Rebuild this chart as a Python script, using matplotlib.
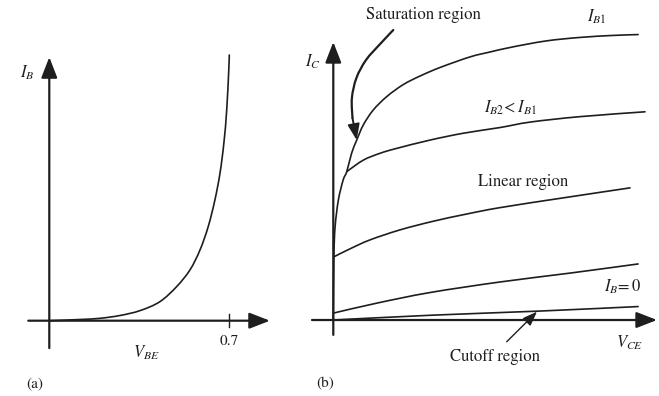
import matplotlib
matplotlib.use("Agg")
import matplotlib.pyplot as plt
from matplotlib.path import Path
from matplotlib.patches import PathPatch

plt.rcParams['mathtext.fontset'] = 'stix'
plt.rcParams['font.family'] = ['STIXGeneral', 'DejaVu Serif']

INK = '#1e1e1e'

# ---------------- Panel (a): input characteristic ----------------
vbe = [0.0, 0.119, 0.197, 0.275, 0.353, 0.430, 0.495, 0.547, 0.586, 0.618,
       0.644, 0.664, 0.679, 0.690, 0.698, 0.700]
ib = [0.0, 0.0045, 0.009, 0.0196, 0.038, 0.0715, 0.128, 0.191, 0.266, 0.354,
      0.454, 0.556, 0.669, 0.793, 0.944, 1.0]
vbe_tick = 0.7
vbe_tick_label = '0.7'

# ---------------- Panel (b): output characteristics ----------------
ib1_v = [0, 0.02, 0.06, 0.17, 0.33, 0.45, 0.61, 0.78, 1.0, 1.33, 1.78, 2.33,
         2.89, 3.56, 4.56, 5.22, 5.99, 7.11, 8.22, 9.32, 10.16]
ib1_i = [0, 2.21, 3.26, 4.20, 4.90, 5.19, 5.83, 6.29, 6.82, 7.34, 7.81, 8.23,
         8.53, 8.83, 9.20, 9.37, 9.55, 9.76, 9.88, 9.95, 9.98]
ib2_v = [0.45, 1.0, 1.56, 2.11, 3.22, 4.33, 5.56, 6.56, 8.22, 10.39]
ib2_i = [5.19, 5.59, 5.83, 6.00, 6.29, 6.53, 6.73, 6.92, 7.11, 7.28]
ib3_v = [0.02, 0.56, 1.22, 2.22, 3.32, 4.42, 5.56, 7.66, 9.89]
ib3_i = [2.21, 2.49, 2.80, 3.15, 3.45, 3.70, 3.93, 4.27, 4.62]
ib4_v = [0, 1.45, 3.22, 5.56, 7.89, 10.16]
ib4_i = [0.24, 0.59, 0.96, 1.33, 1.64, 1.96]
ib0_v = [0, 3.32, 6.82, 10.16]
ib0_i = [0, 0.17, 0.31, 0.47]

# saturation-region pointer path
sat_v = [2.0, 1.56, 1.09, 0.77, 0.62, 0.64, 0.78]
sat_i = [10.14, 9.65, 9.09, 8.46, 7.76, 7.06, 6.29]
# cutoff-region pointer (tail, tip)
cut_v = [5.78, 6.79]
cut_i = [-0.76, 0.29]

W, H = 659, 396
fig = plt.figure(figsize=(W / 100, H / 100), dpi=100)

axa = fig.add_axes([0, 0, 300 / W, 1])
axa.set_xlim(-0.1917, 0.975)
axa.set_ylim(-0.2834, 1.207)
axa.axis('off')

axb = fig.add_axes([300 / W, 0, 359 / W, 1])
axb.set_xlim(-1.11, 10.857)
axb.set_ylim(-2.657, 11.189)
axb.axis('off')


def smooth_line(ax, xs, ys, lw=1.2):
    """Draw a smooth (Catmull-Rom style Bezier) line through the read points."""
    pts = list(zip(xs, ys))
    n = len(pts)
    verts = [pts[0]]
    codes = [Path.MOVETO]
    for k in range(n - 1):
        p0 = pts[k - 1] if k > 0 else pts[k]
        p1 = pts[k]
        p2 = pts[k + 1]
        p3 = pts[k + 2] if k + 2 < n else pts[k + 1]
        c1 = (p1[0] + (p2[0] - p0[0]) / 6, p1[1] + (p2[1] - p0[1]) / 6)
        c2 = (p2[0] - (p3[0] - p1[0]) / 6, p2[1] - (p3[1] - p1[1]) / 6)
        verts += [c1, c2, p2]
        codes += [Path.CURVE4] * 3
    ax.add_patch(PathPatch(Path(verts, codes), fill=False, edgecolor=INK,
                           lw=lw, capstyle='round', joinstyle='round'))


def axis_arrow(ax, start, end):
    ax.annotate('', xy=end, xytext=start,
                arrowprops=dict(arrowstyle='-|>,head_length=0.9,head_width=0.35',
                                color=INK, lw=1.6, shrinkA=0, shrinkB=0,
                                mutation_scale=14))

# panel (a)
axis_arrow(axa, (-0.0817, 0), (0.858, 0))
axis_arrow(axa, (0, -0.103), (0, 0.992))
axa.plot([vbe_tick, vbe_tick], [-0.023, 0.025], color=INK, lw=1.0)
smooth_line(axa, vbe, ib)

fs = 12
axa.text(-0.087, 0.932, r'$I_B$', fontsize=fs, ha='center', va='center', color=INK)
axa.text(vbe_tick, -0.076, vbe_tick_label, fontsize=fs - 1, ha='center', va='center', color=INK)
axa.text(0.376, -0.121, r'$V_{BE}$', fontsize=fs, ha='center', va='center', color=INK)
axa.text(-0.056, -0.238, '(a)', fontsize=fs - 1, ha='center', va='center', color=INK)

# panel (b)
axis_arrow(axb, (-0.71, 0), (10.79, 0))
axis_arrow(axb, (0, -0.52), (0, 9.72))
for xv, yv in [(ib1_v, ib1_i), (ib2_v, ib2_i), (ib3_v, ib3_i), (ib4_v, ib4_i), (ib0_v, ib0_i)]:
    smooth_line(axb, xv, yv)

smooth_line(axb, sat_v[:-1], sat_i[:-1], lw=1.6)
axb.annotate('', xy=(sat_v[-1], sat_i[-1]), xytext=(sat_v[-2], sat_i[-2]),
             arrowprops=dict(arrowstyle='-|>,head_length=0.8,head_width=0.3',
                             color=INK, lw=1.4, shrinkA=0, shrinkB=0, mutation_scale=12))
axb.annotate('', xy=(cut_v[1], cut_i[1]), xytext=(cut_v[0], cut_i[0]),
             arrowprops=dict(arrowstyle='-|>,head_length=0.8,head_width=0.3',
                             color=INK, lw=1.0, shrinkA=0, shrinkB=0, mutation_scale=11))

axb.text(2.99, 10.66, 'Saturation region', fontsize=fs, ha='center', va='center', color=INK)
axb.text(8.79, 10.59, r'$I_{B1}$', fontsize=fs, ha='center', va='center', color=INK)
axb.text(5.89, 7.41, r'$I_{B2}\!<I_{B1}$', fontsize=fs, ha='center', va='center', color=INK)
axb.text(6.32, 4.83, 'Linear region', fontsize=fs, ha='center', va='center', color=INK)
axb.text(9.66, 1.15, r'$I_B\!=0$', fontsize=fs, ha='center', va='center', color=INK)
axb.text(-0.68, 9.02, r'$I_C$', fontsize=fs, ha='center', va='center', color=INK)
axb.text(9.89, -0.80, r'$V_{CE}$', fontsize=fs, ha='center', va='center', color=INK)
axb.text(5.39, -1.29, 'Cutoff region', fontsize=fs, ha='center', va='center', color=INK)
axb.text(-0.28, -2.24, '(b)', fontsize=fs - 1, ha='center', va='center', color=INK)

fig.savefig('out.png', dpi=100)
